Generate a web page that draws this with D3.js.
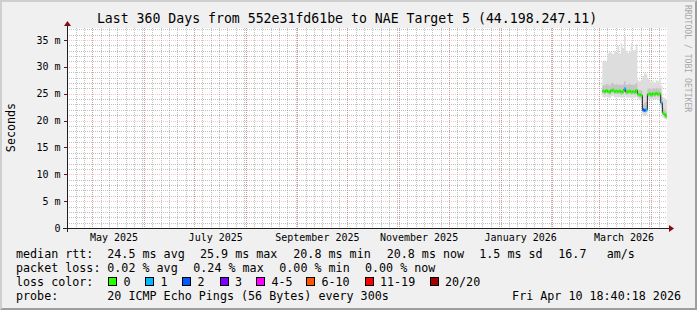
<!DOCTYPE html>
<html>
<head>
<meta charset="utf-8">
<script src="https://cdn.jsdelivr.net/npm/d3@7"></script>
<style>
  html, body { margin: 0; padding: 0; background: #f0f0f0; }
  svg { display: block; font-family: "DejaVu Sans Mono", monospace; }
</style>
</head>
<body>
<svg id="chart" width="697" height="310"></svg>
<script>
const title = "Last 360 Days from 552e31fd61be to NAE Target 5 (44.198.247.11)";
const rangeStart = "2025-04-15T18:40:18";
const rangeEnd = "2026-04-10T18:40:18";

// one value per day, Mar 3 .. Apr 10 2026 (ms)
const days = [
  "2026-03-03", "2026-03-04", "2026-03-05", "2026-03-06", "2026-03-07", "2026-03-08",
  "2026-03-09", "2026-03-10", "2026-03-11", "2026-03-12", "2026-03-13", "2026-03-14",
  "2026-03-15", "2026-03-16", "2026-03-17", "2026-03-18", "2026-03-19", "2026-03-20",
  "2026-03-21", "2026-03-22", "2026-03-23", "2026-03-24", "2026-03-25", "2026-03-26",
  "2026-03-27", "2026-03-28", "2026-03-29", "2026-03-30", "2026-03-31", "2026-04-01",
  "2026-04-02", "2026-04-03", "2026-04-04", "2026-04-05", "2026-04-06", "2026-04-07",
  "2026-04-08", "2026-04-09", "2026-04-10"
];
const median = [
  25.5, 25.4, 25.6, 25.4, 25.3, 25.6, 25.7, 25.4, 25.5, 25.4, 25.5, 25.3, 25.4,
  25.9, 25.3, 25.4, 25.5, 25.3, 25.4, 25.3, 25.6, 24.9, 24.8, 24.7, 22.0, 21.9,
  22.0, 24.9, 25.0, 24.8, 25.0, 24.9, 25.1, 24.9, 25.0, 23.3, 21.4, 21.1, 20.8
];
const lostPings = [
  0, 0, 0, 0, 0, 0, 0, 0, 0, 0, 0, 0, 0,
  1, 0, 0, 0, 0, 0, 0, 0, 0, 0, 0, 2, 2,
  1, 0, 0, 0, 0, 0, 0, 0, 0, 1, 0, 0, 0
];
const smokeMin = [
  24.4, 24.3, 24.4, 24.3, 24.2, 24.5, 24.6, 24.3, 24.4, 24.3, 24.4, 24.2, 24.3,
  24.6, 24.2, 24.3, 24.3, 24.2, 24.3, 24.2, 24.4, 23.9, 23.8, 23.5, 21.0, 20.9,
  21.0, 23.9, 24.0, 23.8, 24.0, 23.9, 24.0, 23.9, 24.0, 22.3, 20.5, 20.3, 20.2
];
const smokeLow = [
  25.0, 24.9, 25.1, 24.9, 24.8, 25.1, 25.2, 24.9, 25.0, 24.9, 25.0, 24.8, 24.9,
  25.3, 24.8, 24.9, 25.0, 24.8, 24.9, 24.8, 25.0, 24.4, 24.3, 24.2, 21.6, 21.5,
  21.6, 24.4, 24.5, 24.3, 24.5, 24.4, 24.6, 24.4, 24.5, 22.8, 21.0, 20.7, 20.5
];
const smokeHigh = [
  26.6, 26.5, 26.8, 26.7, 26.5, 26.9, 27.0, 26.6, 26.8, 26.6, 26.7, 26.6, 26.7,
  27.3, 26.6, 26.7, 26.8, 26.6, 26.7, 26.6, 27.0, 25.8, 25.7, 25.6, 23.0, 23.2,
  23.5, 25.9, 26.0, 25.8, 26.0, 25.9, 26.1, 25.9, 26.0, 24.4, 22.4, 22.0, 21.6
];
const smokeMax = [
  31.0, 31.2, 31.0, 32.5, 32.8, 32.6, 32.4, 32.9, 32.6, 33.9, 32.5, 34.4, 33.5,
  35.6, 33.0, 32.6, 32.8, 34.4, 32.9, 33.2, 34.2, 27.5, 27.3, 27.6, 28.3, 28.9,
  28.6, 27.8, 27.4, 27.2, 27.4, 27.1, 27.5, 27.3, 27.9, 26.5, 24.3, 24.2, 23.9
];

const yTicks = [0, 5, 10, 15, 20, 25, 30, 35];
const monthLabels = ["May 2025", "July 2025", "September 2025", "November 2025", "January 2026", "March 2026"];
const monthLabelAt = ["2025-05-14", "2025-07-14", "2025-09-13", "2025-11-13", "2026-01-13", "2026-03-16"];

const lossClasses = ["0", "1", "2", "3", "4-5", "6-10", "11-19", "20/20"];
const lossColors = ["#26ff00", "#00b8ff", "#0059ff", "#7e00ff", "#ff00ff", "#ff5500", "#ff0000", "#a10000"];

const rttStats = ["24.5 ms avg", "25.9 ms max", "20.8 ms min", "20.8 ms now", "1.5 ms sd", "16.7", "am/s"];
const lossStats = ["0.02 % avg", "0.24 % max", "0.00 % min", "0.00 % now"];
const probeText = "20 ICMP Echo Pings (56 Bytes) every 300s";
const stamp = "Fri Apr 10 18:40:18 2026";

// layout
const W = 697, H = 310;
const x0 = 67, x1 = 667, yTop = 28, yBot = 228;
const rttCols = [107.3, 200, 293.3, 386.7, 479.3, 558.3, 606.7];
const lossCols = [107.3, 193.3, 279.3, 365];
const boxCols = [108.5, 145.5, 182.5, 220, 256.5, 306.5, 365, 430];
const legendFont = 11.7;

const parse = d3.utcParse("%Y-%m-%dT%H:%M:%S");
const parseDay = d3.utcParse("%Y-%m-%d");
const tStart = parse(rangeStart), tEnd = parse(rangeEnd);

const x = d3.scaleUtc().domain([tStart, tEnd]).range([x0, x1]);
const y = d3.scaleLinear().domain([0, 37.23]).range([yBot, yTop]);

function lossClass(n) {
  if (n <= 3) return n;
  if (n <= 5) return 4;
  if (n <= 10) return 5;
  if (n <= 19) return 6;
  return 7;
}

const data = days.map((d, i) => ({
  date: parseDay(d),
  med: median[i],
  loss: lossClass(lostPings[i]),
  min: smokeMin[i], lo: smokeLow[i], hi: smokeHigh[i], max: smokeMax[i]
}));
// last step runs to the end of the range
const steps = data.concat([{ ...data[data.length - 1], date: tEnd }]);

const svg = d3.select("#chart");

// background + rrdtool style shaded frame
svg.append("rect").attr("width", W).attr("height", H).attr("fill", "#f0f0f0");
svg.append("path").attr("d", `M0,0H${W}L${W - 2},2H2V${H - 2}L0,${H}Z`).attr("fill", "#cfcfcf");
svg.append("path").attr("d", `M${W},0V${H}H0L2,${H - 2}H${W - 2}V2Z`).attr("fill", "#9e9e9e");

svg.append("rect")
  .attr("x", x0).attr("y", yTop)
  .attr("width", x1 - x0).attr("height", yBot - yTop)
  .attr("fill", "#fff");

// grid
const grid = svg.append("g").attr("shape-rendering", "crispEdges").attr("stroke-dasharray", "1,1");
const px = (v) => Math.round(v) + 0.5;

const minorY = d3.range(1, 38).filter((v) => v % 5 !== 0 && y(v) >= yTop);
grid.selectAll("line.minor-y").data(minorY).join("line")
  .attr("x1", x0).attr("x2", x1)
  .attr("y1", (d) => px(y(d))).attr("y2", (d) => px(y(d)))
  .attr("stroke", "#8f8f8f").attr("stroke-opacity", 0.55);

const minorX = d3.utcDay.every(5).range(tStart, tEnd);
grid.selectAll("line.minor-x").data(minorX).join("line")
  .attr("x1", (d) => px(x(d))).attr("x2", (d) => px(x(d)))
  .attr("y1", yTop).attr("y2", yBot)
  .attr("stroke", "#8f8f8f").attr("stroke-opacity", 0.55);

grid.selectAll("line.major-y").data(yTicks.slice(1)).join("line")
  .attr("x1", x0).attr("x2", x1)
  .attr("y1", (d) => px(y(d))).attr("y2", (d) => px(y(d)))
  .attr("stroke", "#e05050").attr("stroke-opacity", 0.32);

const months = d3.utcMonth.range(tStart, tEnd);
grid.selectAll("line.major-x").data(months).join("line")
  .attr("x1", (d) => px(x(d))).attr("x2", (d) => px(x(d)))
  .attr("y1", yTop).attr("y2", yBot)
  .attr("stroke", "#e05050").attr("stroke-opacity", 0.32);

// smoke
const area = (lo, hi) => d3.area()
  .curve(d3.curveStepAfter)
  .x((d) => x(d.date))
  .y0((d) => y(d[lo]))
  .y1((d) => y(d[hi]));

svg.append("path").datum(steps).attr("fill", "#dddddd").attr("d", area("min", "max"));
svg.append("path").datum(steps).attr("fill", "#c4c4c4").attr("d", area("lo", "hi"));

// median: thin dark line, then loss-coloured segments
svg.append("path").datum(steps)
  .attr("fill", "none").attr("stroke", "#202020").attr("stroke-width", 1)
  .attr("d", d3.line().curve(d3.curveStepAfter).x((d) => x(d.date)).y((d) => y(d.med)));

svg.append("g").selectAll("line").data(data).join("line")
  .attr("x1", (d) => x(d.date))
  .attr("x2", (d, i) => x(steps[i + 1].date))
  .attr("y1", (d) => y(d.med)).attr("y2", (d) => y(d.med))
  .attr("stroke", (d) => lossColors[d.loss])
  .attr("stroke-width", 3);

// axes
const axis = svg.append("g").attr("shape-rendering", "crispEdges");
axis.append("line").attr("x1", x0 - 4).attr("x2", x1 + 4).attr("y1", yBot + 0.5).attr("y2", yBot + 0.5)
  .attr("stroke", "#202020");
axis.append("line").attr("x1", x0 + 0.5).attr("x2", x0 + 0.5).attr("y1", yBot + 4).attr("y2", yTop - 4)
  .attr("stroke", "#202020");
axis.selectAll("line.ytick").data(yTicks.slice(1)).join("line")
  .attr("x1", x0 - 3).attr("x2", x0)
  .attr("y1", (d) => px(y(d))).attr("y2", (d) => px(y(d)))
  .attr("stroke", "#7f1010");
svg.append("path")
  .attr("d", `M${x1 + 2},${yBot - 3}L${x1 + 2},${yBot + 4}L${x1 + 7},${yBot + 0.5}Z`)
  .attr("fill", "#801010");
svg.append("path")
  .attr("d", `M${x0 - 3},${yTop - 2}L${x0 + 4},${yTop - 2}L${x0 + 0.5},${yTop - 7}Z`)
  .attr("fill", "#801010");

// y labels
svg.append("g").selectAll("text").data(yTicks).join("text")
  .attr("x", 60.5).attr("y", (d) => y(d) + 3.6)
  .attr("text-anchor", "end").attr("font-size", 10)
  .text((d) => (d === 0 ? "0" : `${d} m`));

svg.append("text")
  .attr("transform", "translate(14.5,127.5) rotate(-90)")
  .attr("text-anchor", "middle").attr("font-size", legendFont)
  .text("Seconds");

// x labels
svg.append("g").selectAll("text").data(monthLabels).join("text")
  .attr("x", (d, i) => x(parseDay(monthLabelAt[i])))
  .attr("y", 240.5)
  .attr("text-anchor", "middle").attr("font-size", 10)
  .text((d) => d);

// title + watermark
svg.append("text").attr("x", 347).attr("y", 23).attr("text-anchor", "middle")
  .attr("font-size", 13.2).text(title);
svg.append("text")
  .attr("transform", "translate(684.5,5) rotate(90)")
  .attr("font-size", 8.1).attr("fill", "#a8a8a8")
  .text("RRDTOOL / TOBI OETIKER");

// legend
const legend = svg.append("g").attr("font-size", legendFont);
const rows = [257.5, 271.5, 285.5, 300];
legend.append("text").attr("x", 16).attr("y", rows[0]).text("median rtt:");
legend.selectAll("text.rtt").data(rttStats).join("text")
  .attr("x", (d, i) => rttCols[i]).attr("y", rows[0]).text((d) => d);
legend.append("text").attr("x", 16).attr("y", rows[1]).text("packet loss:");
legend.selectAll("text.loss").data(lossStats).join("text")
  .attr("x", (d, i) => lossCols[i]).attr("y", rows[1]).text((d) => d);
legend.append("text").attr("x", 16).attr("y", rows[2]).text("loss color:");
const boxes = legend.selectAll("g.box").data(lossClasses).join("g");
boxes.append("rect")
  .attr("x", (d, i) => boxCols[i]).attr("y", 277.5)
  .attr("width", 8).attr("height", 8)
  .attr("fill", (d, i) => lossColors[i])
  .attr("stroke", "#000").attr("shape-rendering", "crispEdges");
boxes.append("text")
  .attr("x", (d, i) => boxCols[i] + 15).attr("y", rows[2]).text((d) => d);
legend.append("text").attr("x", 16).attr("y", rows[3]).text("probe:");
legend.append("text").attr("x", 107.3).attr("y", rows[3]).text(probeText);
legend.append("text").attr("x", 681).attr("y", rows[3]).attr("text-anchor", "end").text(stamp);
</script>
</body>
</html>
